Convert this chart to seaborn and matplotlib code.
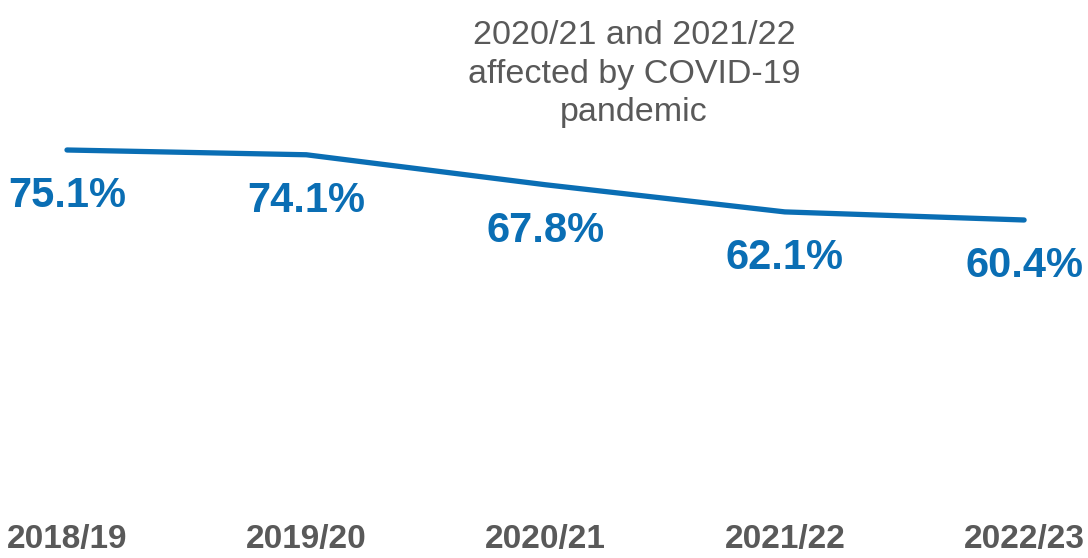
import matplotlib
matplotlib.use("Agg")
import matplotlib.pyplot as plt
import seaborn as sns
import pandas as pd

years = ["2018/19", "2019/20", "2020/21", "2021/22", "2022/23"]
rates = [75.1, 74.1, 67.8, 62.1, 60.4]
note = "2020/21 and 2021/22\naffected by COVID-19\npandemic"

sns.set_style("white")
plt.rcParams["font.family"] = ["Liberation Sans", "DejaVu Sans"]

blue = "#0A6EB4"
grey = "#595959"

df = pd.DataFrame({"pos": range(len(years)), "year": years, "rate": rates})

fig = plt.figure(figsize=(10.88, 5.58), dpi=100)
ax = fig.add_axes([0, 0.0903, 1, 0.9097])

sns.lineplot(data=df, x="pos", y="rate", ax=ax, color=blue, linewidth=3.8,
             solid_capstyle="round")

for x, y in zip(df["pos"], df["rate"]):
    ax.annotate(f"{y:.1f}%", (x, y), xytext=(0, -33), textcoords="offset points",
                ha="center", va="center", fontsize=30, fontweight="bold", color=blue)

ax.set_xlim(-0.28, 4.267)
ax.set_ylim(0, 106.6)
ax.set_xticks(df["pos"])
ax.set_xticklabels(years, fontsize=24, fontweight="bold", color=grey)
ax.tick_params(axis="x", length=0, pad=11.5)
ax.set_yticks([])
ax.set_xlabel("")
ax.set_ylabel("")
sns.despine(ax=ax, left=True, bottom=True)

fig.text(634 / 1088, 1 - 74 / 558, note, ha="center", va="center",
         fontsize=24.5, color=grey, linespacing=1.3, multialignment="center")

fig.savefig("out.png", dpi=100)
